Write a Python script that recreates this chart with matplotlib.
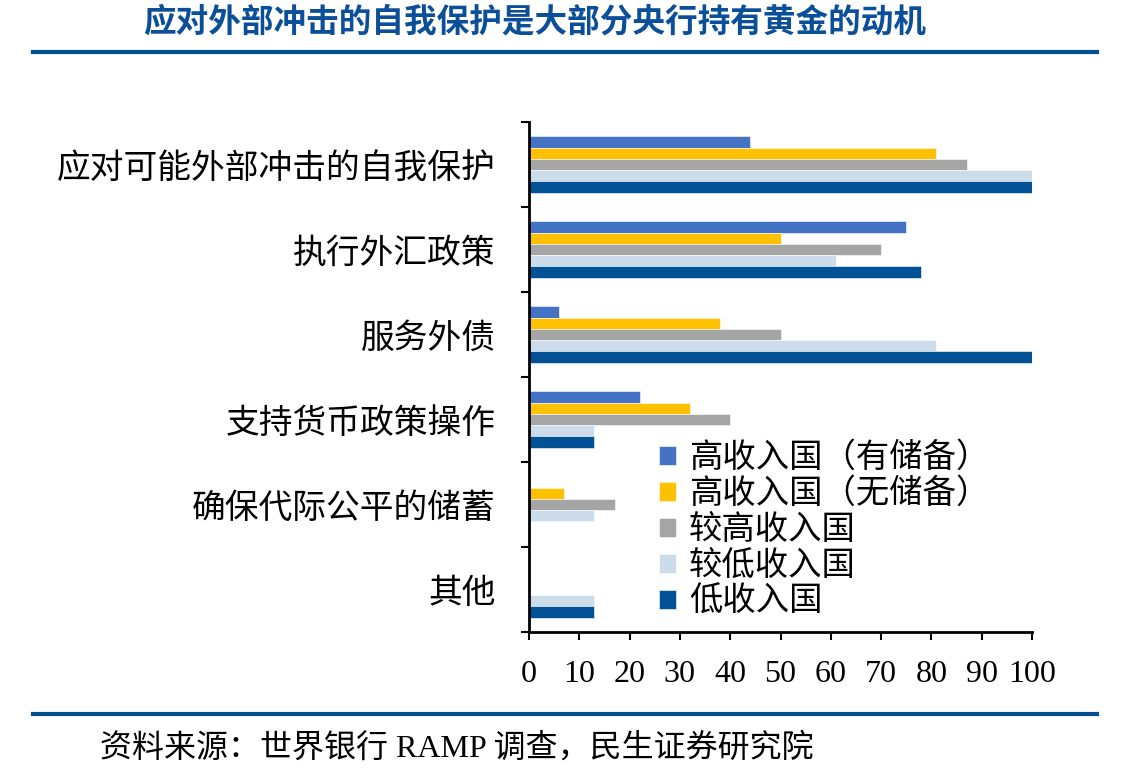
import numpy as np
import matplotlib.pyplot as plt
from matplotlib.lines import Line2D

plt.rcParams['font.family'] = ['Liberation Serif', 'Noto Sans CJK SC', 'DejaVu Sans']

# data
categories = ['应对可能外部冲击的自我保护', '执行外汇政策', '服务外债',
              '支持货币政策操作', '确保代际公平的储蓄', '其他']
series_names = ['高收入国（有储备）', '高收入国（无储备）', '较高收入国', '较低收入国', '低收入国']
high_reserve = [44, 75, 6, 22, 0, 0]
high_noreserve = [81, 50, 38, 32, 7, 0]
upper_middle = [87, 70, 50, 40, 17, 0]
lower_middle = [100, 61, 81, 13, 13, 13]
low_income = [100, 78, 100, 13, 0, 13]
x_ticks = list(range(0, 101, 10))

series = [high_reserve, high_noreserve, upper_middle, lower_middle, low_income]
colors = ['#4472C4', '#FFC000', '#A5A5A5', '#CCDCEA', '#005196']

W, H = 1127, 776
fig = plt.figure(figsize=(W / 100, H / 100), dpi=100)
ax = fig.add_axes([529 / W, 1 - 632 / H, (1032 - 529) / W, (632 - 122) / H])

y = np.arange(len(categories))
h = 0.133
for j, (vals, col) in enumerate(zip(series, colors)):
    ax.barh(y + (j - 2) * h, vals, height=h, color=col, label=series_names[j],
            edgecolor='white', linewidth=0.4)

ax.set_ylim(len(categories) - 0.5, -0.5)
ax.set_xlim(0, 100)
ax.set_xticks(x_ticks)
ax.set_yticks(y)
ax.set_yticklabels(categories, fontsize=24.3, family=['Noto Sans CJK SC'])
ax.set_yticks(np.arange(-0.5, len(categories)), minor=True)
ax.tick_params(axis='y', which='major', length=0, pad=24)
ax.tick_params(axis='y', which='minor', length=6, width=1.5, direction='out')
ax.tick_params(axis='x', length=6, width=1.5, direction='out', labelsize=23, pad=14)
for s in ['top', 'right']:
    ax.spines[s].set_visible(False)
for s in ['left', 'bottom']:
    ax.spines[s].set_linewidth(2)

leg = ax.legend(loc='upper left', bbox_to_anchor=(659 / W, 1 - 440 / H),
                bbox_transform=fig.transFigure, frameon=False, borderpad=0,
                borderaxespad=0, handlelength=0.5, handleheight=0.5,
                handletextpad=0.4, labelspacing=0.03,
                prop={'family': 'Noto Sans CJK SC', 'size': 24})

# title, rules and source line
fig.text(535 / W, 1 - 22 / H, '应对外部冲击的自我保护是大部分央行持有黄金的动机',
         ha='center', va='center', fontsize=23.5, fontweight='bold',
         color='#0B4F9A', family=['Noto Sans CJK SC'])
fig.add_artist(Line2D([33 / W, 1097 / W], [1 - 52 / H, 1 - 52 / H],
                      transform=fig.transFigure, color='#00508F', linewidth=3))
fig.add_artist(Line2D([33 / W, 1097 / W], [1 - 714 / H, 1 - 714 / H],
                      transform=fig.transFigure, color='#00508F', linewidth=3))
fig.text(100 / W, 1 - 748 / H, '资料来源：世界银行 RAMP 调查，民生证券研究院',
         ha='left', va='center', fontsize=23)

fig.savefig('out.png', dpi=100)
